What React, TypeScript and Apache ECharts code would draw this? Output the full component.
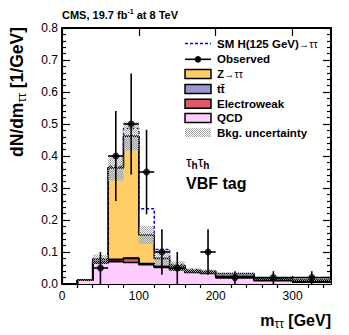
import React, { useEffect, useRef } from 'react';
import * as echarts from 'echarts';

// ---- data (dN/dm per GeV) ----
const binEdges = [0, 20, 40, 60, 80, 100, 120, 140, 160, 180, 200, 250, 300, 350];
const qcd = [0, 0.012, 0.065, 0.07, 0.067, 0.06, 0.052, 0.044, 0.036, 0.033, 0.02, 0.01, 0.006];
const electroweak = [0, 0, 0.004, 0.006, 0.013, 0.003, 0.002, 0.002, 0.001, 0.001, 0.002, 0.002, 0.002];
const ttbar = [0, 0, 0.001, 0.001, 0.001, 0.001, 0.001, 0.001, 0.001, 0.001, 0.002, 0.002, 0.002];
const ztautau = [0, 0, 0.007, 0.286, 0.381, 0.089, 0.025, 0.009, 0.004, 0.004, 0.008, 0.002, 0.002];
const bkgUncertainty = [0, 0.002, 0.015, 0.04, 0.045, 0.028, 0.022, 0.015, 0.006, 0.006, 0.004, 0.003, 0.003];
const smHiggs = [0, 0, 0.001, 0.005, 0.024, 0.082, 0.028, 0.005, 0.003, 0.002, 0.001, 0.001, 0];
const observed = [null, null, 0.05, 0.4, 0.5, 0.35, 0.1, 0.05, null, 0.1, 0.02, 0.02, 0.02];
const observedError = [null, null, 0.05, 0.141, 0.158, 0.132, 0.071, 0.05, null, 0.071, 0.02, 0.02, 0.02];
const xMajorTicks = [0, 100, 200, 300];
const xMinorTicks = [20, 40, 60, 80, 120, 140, 160, 180, 220, 240, 260, 280, 320, 340];

const FONT = 'Liberation Sans, Arial, Helvetica, sans-serif';
const COLORS = {
  ztt: '#FFCC66',
  tt: '#9999CC',
  ew: '#DE5A6A',
  qcd: '#FFCCFF',
  sig: '#0000FF',
};

function cumulative(...arrs: number[][]) {
  return arrs[0].map((_, i) => arrs.reduce((s, a) => s + a[i], 0));
}
function stepData(vals: number[]) {
  const d = vals.map((v, i) => [binEdges[i], v]);
  d.push([binEdges[binEdges.length - 1], vals[vals.length - 1]]);
  return d;
}

export default function App() {
  const ref = useRef<HTMLDivElement>(null);
  useEffect(() => {
    if (!ref.current) return;
    const chart = echarts.init(ref.current, undefined, { renderer: 'svg' });

    const cv = document.createElement('canvas');
    cv.width = 2;
    cv.height = 2;
    const ctx = cv.getContext('2d')!;
    ctx.fillStyle = '#a4a4a4';
    ctx.fillRect(0, 0, 1, 1);
    ctx.fillRect(1, 1, 1, 1);
    const hatch: any = { image: cv, repeat: 'repeat', imageWidth: 2, imageHeight: 2 };

    const c1 = qcd;
    const c2 = cumulative(qcd, electroweak);
    const c3 = cumulative(qcd, electroweak, ttbar);
    const c4 = cumulative(qcd, electroweak, ttbar, ztautau);
    const c5 = cumulative(qcd, electroweak, ttbar, ztautau, smHiggs);

    const bandData = c4.map((v, i) => [binEdges[i], binEdges[i + 1], v - bkgUncertainty[i], v + bkgUncertainty[i]]);
    const obsBars: number[][] = [];
    const obsPts: number[][] = [];
    observed.forEach((v, i) => {
      if (v == null) return;
      const xc = (binEdges[i] + binEdges[i + 1]) / 2;
      const e = observedError[i] as number;
      obsBars.push([xc, binEdges[i], binEdges[i + 1], v, Math.max(0, v - e), v + e]);
      obsPts.push([xc, v]);
    });

    const areaSeries = (name: string, vals: number[], color: string) => ({
      type: 'line',
      name,
      data: stepData(vals),
      step: 'end',
      showSymbol: false,
      silent: true,
      z: 2,
      lineStyle: { color: '#000', width: 1.6 },
      areaStyle: { color, opacity: 1 },
      xAxisIndex: 0,
      yAxisIndex: 0,
    });

    const line = (x1: number, y1: number, x2: number, y2: number) => ({
      type: 'line',
      shape: { x1, y1, x2, y2 },
      style: { stroke: '#000', lineWidth: 1.6 },
    });

    const axisCommon = {
      min: 0,
      max: 350,
      type: 'value',
      splitLine: { show: false },
      axisLine: { show: true, onZero: false, lineStyle: { color: '#000', width: 2 } },
    };

    const yCommon = {
      type: 'value',
      min: 0,
      max: 0.8,
      interval: 0.1,
      splitLine: { show: false },
      axisLine: { show: true, onZero: false, lineStyle: { color: '#000', width: 2 } },
      axisTick: { show: true, inside: true, length: 8, lineStyle: { color: '#000', width: 1.2 } },
      minorTick: { show: true, splitNumber: 5, length: 4, lineStyle: { color: '#000', width: 1.2 } },
    };

    // legend rows
    const rows = [43.5, 59.3, 74, 89, 103.7, 118, 132.7];
    const lx = 185;
    const lw = 26;
    const tx = 217;
    const legendText = (y: number, text: string) => ({
      type: 'text',
      x: tx,
      y,
      style: {
        text,
        verticalAlign: 'middle',
        rich: {
          b: { fontFamily: FONT, fontSize: 11.5, fontWeight: 'bold', fill: '#000', lineHeight: 14 },
          n: { fontFamily: FONT, fontSize: 10.5, fill: '#000', lineHeight: 14 },
        },
      },
    });
    const legendBox = (y: number, fill: any, stroke: string | null) => ({
      type: 'rect',
      shape: { x: lx, y: y - 4.5, width: lw, height: 9 },
      style: stroke ? { fill, stroke, lineWidth: 1.5 } : { fill },
    });

    const graphics: any[] = [
      // CMS label
      {
        type: 'text',
        x: 62,
        y: 15,
        style: {
          text: '{b|CMS, 19.7 fb}{s|-1}{b| at 8 TeV}',
          verticalAlign: 'middle',
          rich: {
            b: { fontFamily: FONT, fontSize: 11, fontWeight: 'bold', fill: '#000', lineHeight: 14 },
            s: { fontFamily: FONT, fontSize: 7, fontWeight: 'bold', fill: '#000', lineHeight: 7, verticalAlign: 'top' },
          },
        },
      },
      // y title
      {
        type: 'text',
        x: 17,
        y: 27,
        rotation: Math.PI / 2,
        style: {
          text: '{b|dN/dm}{s|ττ}{b| [1/GeV]}',
          align: 'right',
          verticalAlign: 'middle',
          rich: {
            b: { fontFamily: FONT, fontSize: 17.5, fontWeight: 'bold', fill: '#000', lineHeight: 22 },
            s: { fontFamily: FONT, fontSize: 12, fill: '#000', lineHeight: 11, verticalAlign: 'bottom' },
          },
        },
      },
      // x title
      {
        type: 'text',
        x: 331,
        y: 320,
        style: {
          text: '{b|m}{s|ττ}{b| [GeV]}',
          align: 'right',
          verticalAlign: 'middle',
          rich: {
            b: { fontFamily: FONT, fontSize: 16, fontWeight: 'bold', fill: '#000', lineHeight: 20 },
            s: { fontFamily: FONT, fontSize: 12, fill: '#000', lineHeight: 11, verticalAlign: 'bottom' },
          },
        },
      },
      // tau_h tau_h
      {
        type: 'text',
        x: 186,
        y: 162,
        style: {
          text: '{t|τ}{h|h}{t|τ}{h|h}',
          verticalAlign: 'middle',
          rich: {
            t: { fontFamily: FONT, fontSize: 14, fill: '#000', lineHeight: 16 },
            h: { fontFamily: FONT, fontSize: 10, fontWeight: 'bold', fill: '#000', lineHeight: 9, verticalAlign: 'bottom' },
          },
        },
      },
      {
        type: 'text',
        x: 186,
        y: 183,
        style: {
          text: 'VBF tag',
          fontFamily: FONT,
          fontSize: 16,
          fontWeight: 'bold',
          fill: '#000',
          verticalAlign: 'middle',
        },
      },
      // legend
      { type: 'line', shape: { x1: lx, y1: rows[0], x2: lx + lw, y2: rows[0] }, style: { stroke: COLORS.sig, lineWidth: 1.5, lineDash: [3, 2] } },
      legendText(rows[0], '{b|SM H(125 GeV)}{n|→ττ}'),
      { type: 'line', shape: { x1: lx, y1: rows[1], x2: lx + lw, y2: rows[1] }, style: { stroke: '#000', lineWidth: 1.6 } },
      { type: 'circle', shape: { cx: lx + lw / 2, cy: rows[1], r: 3.3 }, style: { fill: '#000' } },
      legendText(rows[1], '{b|Observed}'),
      legendBox(rows[2], COLORS.ztt, '#000'),
      legendText(rows[2], '{b|Z}{n|→ττ}'),
      legendBox(rows[3], COLORS.tt, '#000'),
      legendText(rows[3], '{b|tt\u0304}'),
      legendBox(rows[4], COLORS.ew, '#000'),
      legendText(rows[4], '{b|Electroweak}'),
      legendBox(rows[5], COLORS.qcd, '#000'),
      legendText(rows[5], '{b|QCD}'),
      legendBox(rows[6], hatch, null),
      legendText(rows[6], '{b|Bkg. uncertainty}'),
    ];

    chart.setOption({
      animation: false,
      grid: { left: 62, right: 18, top: 28, bottom: 51 },
      xAxis: [
        {
          ...axisCommon,
          position: 'bottom',
          axisTick: { show: true, inside: true, length: 8, customValues: xMajorTicks, lineStyle: { color: '#000', width: 1.2 } },
          axisLabel: {
            show: true,
            customValues: xMajorTicks,
            margin: 6,
            fontFamily: FONT,
            fontSize: 12,
            color: '#000',
          },
        },
        {
          ...axisCommon,
          position: 'bottom',
          axisLine: { show: false },
          axisTick: { show: true, inside: true, length: 4, customValues: xMinorTicks, lineStyle: { color: '#000', width: 1.2 } },
          axisLabel: { show: false },
        },
        {
          ...axisCommon,
          position: 'top',
          axisTick: { show: true, inside: true, length: 8, customValues: xMajorTicks, lineStyle: { color: '#000', width: 1.2 } },
          axisLabel: { show: false },
        },
        {
          ...axisCommon,
          position: 'top',
          axisLine: { show: false },
          axisTick: { show: true, inside: true, length: 4, customValues: xMinorTicks, lineStyle: { color: '#000', width: 1.2 } },
          axisLabel: { show: false },
        },
      ],
      yAxis: [
        {
          ...yCommon,
          position: 'left',
          axisLabel: {
            show: true,
            margin: 4,
            fontFamily: FONT,
            fontSize: 12,
            color: '#000',
            formatter: (v: number) => v.toFixed(1),
          },
        },
        {
          ...yCommon,
          position: 'right',
          axisLabel: { show: false },
        },
      ],
      graphic: graphics,
      series: [
        {
          type: 'line',
          name: 'SM H',
          data: stepData(c5),
          step: 'end',
          showSymbol: false,
          silent: true,
          z: 1,
          lineStyle: { color: COLORS.sig, width: 1.5, type: [3, 2] },
        },
        areaSeries('Z→ττ', c4, COLORS.ztt),
        areaSeries('tt', c3, COLORS.tt),
        areaSeries('Electroweak', c2, COLORS.ew),
        areaSeries('QCD', c1, COLORS.qcd),
        {
          type: 'custom',
          name: 'Bkg. uncertainty',
          silent: true,
          z: 3,
          data: bandData,
          renderItem: (params: any, api: any) => {
            const p0 = api.coord([api.value(0), api.value(3)]);
            const p1 = api.coord([api.value(1), api.value(2)]);
            return {
              type: 'rect',
              shape: { x: p0[0], y: p0[1], width: p1[0] - p0[0], height: p1[1] - p0[1] },
              style: { fill: hatch },
            };
          },
        },
        {
          type: 'custom',
          name: 'Observed bars',
          silent: true,
          z: 4,
          data: obsBars,
          renderItem: (params: any, api: any) => {
            const pc = api.coord([api.value(0), api.value(3)]);
            const pl = api.coord([api.value(1), api.value(3)]);
            const pr = api.coord([api.value(2), api.value(3)]);
            const plo = api.coord([api.value(0), api.value(4)]);
            const phi = api.coord([api.value(0), api.value(5)]);
            return {
              type: 'group',
              children: [line(pc[0], plo[1], pc[0], phi[1]), line(pl[0], pc[1], pr[0], pc[1])],
            };
          },
        },
        {
          type: 'scatter',
          name: 'Observed',
          silent: true,
          z: 5,
          data: obsPts,
          symbol: 'circle',
          symbolSize: 7,
          itemStyle: { color: '#000' },
        },
      ],
    });
    return () => chart.dispose();
  }, []);
  return <div ref={ref} style={{ position: 'fixed', left: 0, top: 0, width: 349, height: 335, background: '#fff' }} />;
}
